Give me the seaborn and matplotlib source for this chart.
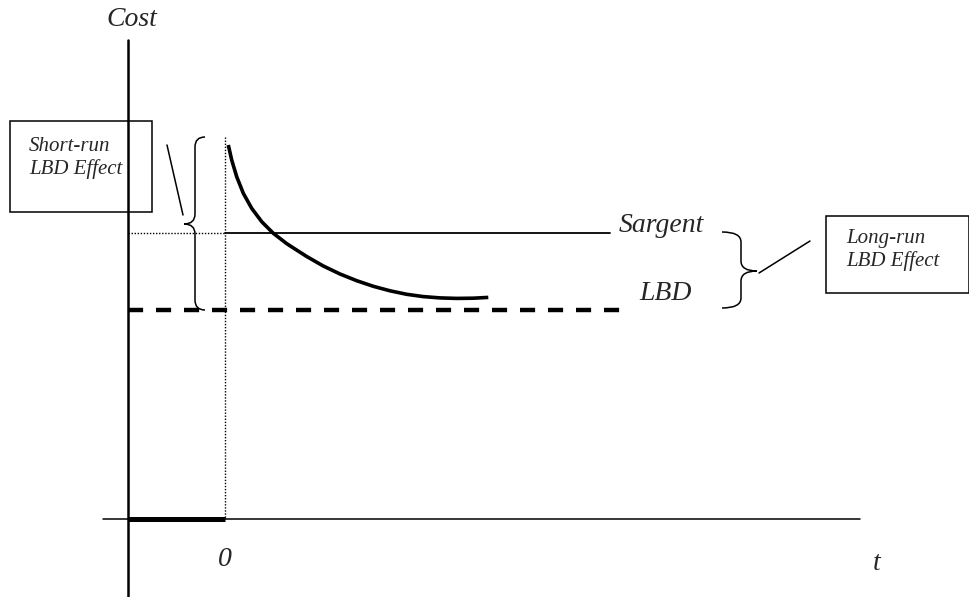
import numpy as np
import pandas as pd
import matplotlib.pyplot as plt
import seaborn as sns
from matplotlib.path import Path
from matplotlib.patches import PathPatch, Rectangle

# Schematic diagram: positions are given in the picture's own pixel frame
# (x to the right, y downwards).

# LBD cost curve (time, cost)
curve_t = [228.3, 231.7, 236.7, 243.3, 251.7, 261.7, 273.3, 286.7, 290, 306.7,
           323.3, 340, 356.7, 373.3, 390, 406.7, 423.3, 440, 456.7, 473.3, 488.3]
curve_cost = [145, 160, 176.7, 193.3, 208.3, 221.7, 233.3, 243.6, 245.8, 256.5,
              266, 274, 280.7, 286.3, 290.8, 294.3, 296.6, 297.9, 298.4, 298.2, 297.4]

# Key levels
t_zero = 225
sargent_level = 233
lbd_level = 310
sargent_end = 610
lbd_end = 622

# Axes of the diagram
cost_axis_x = 128
time_axis_y = 519

# Labels
axis_labels = ["Cost", "0", "t"]
line_labels = ["Sargent", "LBD"]
box_labels = ["Short-run\nLBD Effect", "Long-run\nLBD Effect"]

sns.set_style("white")
plt.rcParams['font.family'] = ['Liberation Serif', 'DejaVu Serif']

fig = plt.figure(figsize=(9.7, 5.97), dpi=100)
ax = fig.add_axes([0, 0, 1, 1])
ax.set_xlim(0, 970)
ax.set_ylim(597, 0)
ax.axis('off')

# axes of the diagram
ax.plot([cost_axis_x, cost_axis_x], [40, 597], color='black', lw=1.8)
ax.plot([103, 860], [time_axis_y, time_axis_y], color='black', lw=1.1)
ax.plot([cost_axis_x, t_zero], [time_axis_y, time_axis_y], color='black', lw=3.6,
        solid_capstyle='butt')

# dotted guides
ax.plot([t_zero, t_zero], [137, time_axis_y], color='black', lw=1.0, dashes=(1, 1.2))
ax.plot([cost_axis_x, t_zero], [sargent_level, sargent_level], color='black', lw=1.0,
        dashes=(1, 1.2))

# Sargent and LBD lines
lines_df = pd.DataFrame({
    't': [t_zero, sargent_end, cost_axis_x, lbd_end],
    'cost': [sargent_level, sargent_level, lbd_level, lbd_level],
    'line': ['Sargent', 'Sargent', 'LBD', 'LBD'],
})
sns.lineplot(data=lines_df[lines_df.line == 'Sargent'], x='t', y='cost', color='black',
             lw=1.3, ax=ax, legend=False)
sns.lineplot(data=lines_df[lines_df.line == 'LBD'], x='t', y='cost', color='black',
             lw=3.2, dashes=False, ax=ax, legend=False)
ax.lines[-1].set_dashes((3.4, 2.9))

# learning-by-doing curve
curve_df = pd.DataFrame({'t': curve_t, 'cost': curve_cost})
sns.lineplot(data=curve_df, x='t', y='cost', sort=False, color='black', lw=2.6,
             ax=ax, legend=False)
ax.lines[-1].set_solid_capstyle('butt')
ax.lines[-1].set_solid_joinstyle('round')


def brace(x_end, x_spine, x_tip, y_top, y_tip, y_bot, r=10):
    verts = [(x_end, y_top), (x_spine, y_top), (x_spine, y_top + r),
             (x_spine, y_tip - r), (x_spine, y_tip), (x_tip, y_tip),
             (x_spine, y_tip), (x_spine, y_tip + r),
             (x_spine, y_bot - r), (x_spine, y_bot), (x_end, y_bot)]
    codes = [Path.MOVETO, Path.CURVE3, Path.CURVE3,
             Path.LINETO, Path.CURVE3, Path.CURVE3,
             Path.CURVE3, Path.CURVE3,
             Path.LINETO, Path.CURVE3, Path.CURVE3]
    ax.add_patch(PathPatch(Path(verts, codes), fill=False, color='black', lw=1.1))


brace(205, 195, 184, 137, 224, 310)
brace(722, 741, 757, 232, 271, 308)

# pointer lines
ax.plot([167, 183], [145, 215], color='black', lw=1.1)
ax.plot([759, 810], [273, 241], color='black', lw=1.1)

# boxes
ax.add_patch(Rectangle((10, 121), 142, 91, fill=False, ec='black', lw=1.1))
ax.add_patch(Rectangle((826, 216), 143, 77, fill=False, ec='black', lw=1.1))

# text
big = dict(fontsize=20, style='italic', ha='center', va='center')
ax.text(132, 20, axis_labels[0], **big)
ax.text(225, 560, axis_labels[1], **big)
ax.text(877, 563, axis_labels[2], **big)
ax.text(661, 225, line_labels[0], **big)
ax.text(666, 294, line_labels[1], **big)

small = dict(fontsize=15, style='italic', ha='left', va='center', linespacing=1.2)
ax.text(29, 158, box_labels[0], **small)
ax.text(846, 250, box_labels[1], **small)

fig.savefig('out.png', dpi=100)
